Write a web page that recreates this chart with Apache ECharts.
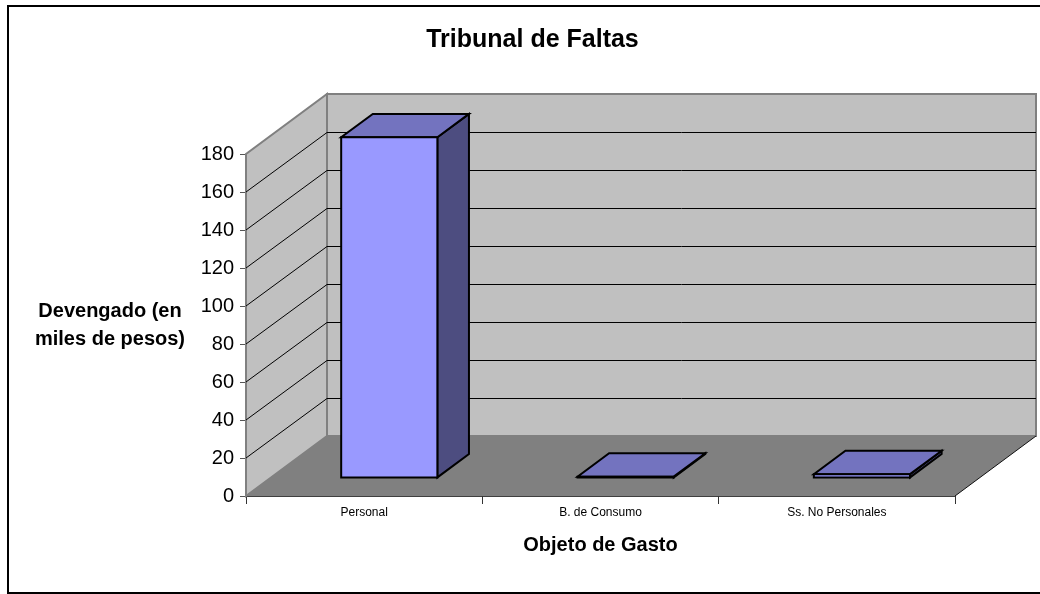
<!DOCTYPE html>
<html>
<head>
<meta charset="utf-8">
<style>html,body{margin:0;padding:0;background:#fff}#c{width:1040px;height:594px}</style>
<script src="https://cdn.jsdelivr.net/npm/echarts@6/dist/echarts.min.js"></script>
</head>
<body>
<div id="c"></div>
<script>
const categories = ['Personal', 'B. de Consumo', 'Ss. No Personales'];
const devengado = [179, 0.4, 1.7];
const gridValues = [20, 40, 60, 80, 100, 120, 140, 160];
const titleText = 'Tribunal de Faltas';
const yName = 'Devengado (en\nmiles de pesos)';
const xName = 'Objeto de Gasto';

const FONT = '"Liberation Sans", Arial, sans-serif';
const DEPTH = [81, -60];          // projection of the floor depth
const BAR_NEAR = 0.31, BAR_FAR = 0.70, BAR_WIDTH = 0.407;

function shifted(p, f) { return [p[0] + DEPTH[0] * f, p[1] + DEPTH[1] * f]; }
function poly(points, fill, stroke, lineWidth) {
  return { type: 'polygon', shape: { points }, style: { fill, stroke: stroke || null, lineWidth: lineWidth || 0, lineJoin: 'miter' } };
}
function seg(a, b, stroke, lineWidth) {
  return { type: 'line', shape: { x1: a[0], y1: a[1], x2: b[0], y2: b[1] }, style: { stroke, lineWidth: lineWidth || 1 } };
}

function renderWalls(params, api) {
  const band = api.size([1, 0])[0];
  const n = categories.length;
  const at = (edge, v) => {
    const p = api.coord([0, v]);
    return [p[0] - band / 2 + band * edge, p[1]];
  };
  const a0 = at(0, 0), b0 = at(n, 0), a1 = at(0, 180), b1 = at(n, 180);
  const kids = [
    poly([a0, a1, shifted(a1, 1), shifted(a0, 1)], '#c0c0c0', '#808080', 2),
    poly([shifted(a0, 1), shifted(a1, 1), shifted(b1, 1), shifted(b0, 1)], '#c0c0c0', '#808080', 2),
    poly([a0, b0, shifted(b0, 1), shifted(a0, 1)], '#808080')
  ];
  gridValues.forEach(v => {
    const l = at(0, v), r = at(n, v);
    const bl = shifted(l, 1), br = shifted(r, 1);
    const crisp = Math.round(bl[1]) + 0.5;
    kids.push(seg(l, [bl[0], crisp], '#000', 1));
    kids.push(seg([bl[0], crisp], [br[0], crisp], '#000', 1));
  });
  kids.push(seg(b0, shifted(b0, 1), '#111', 1));
  return { type: 'group', children: kids };
}

function renderBar(params, api) {
  const i = api.value(0), v = api.value(1);
  const base = api.coord([i, 0]), tip = api.coord([i, v]);
  const half = api.size([1, 0])[0] * BAR_WIDTH / 2;
  const fb = [base[0] - half, base[1]], fr = [base[0] + half, base[1]];
  const ft = [tip[0] - half, tip[1]], tr = [tip[0] + half, tip[1]];
  const n = p => shifted(p, BAR_NEAR), f = p => shifted(p, BAR_FAR);
  const st = '#000', w = 2;
  return {
    type: 'group',
    children: [
      poly([n(fr), n(tr), f(tr), f(fr)], '#4d4d80', st, w),
      poly([n(ft), n(tr), f(tr), f(ft)], '#7373bf', st, w),
      poly([n(fb), n(fr), n(tr), n(ft)], '#9999ff', st, w)
    ]
  };
}

const chart = echarts.init(document.getElementById('c'), null, { renderer: 'canvas' });
chart.setOption({
  animation: false,
  backgroundColor: '#fff',
  title: {
    text: titleText, left: 527.5, top: 23, textAlign: 'center',
    textStyle: { fontFamily: FONT, fontSize: 25, fontWeight: 'bold', color: '#000' }
  },
  grid: { left: 246, right: 85, top: 154, bottom: 98, containLabel: false },
  xAxis: {
    type: 'category', data: categories,
    name: xName, nameLocation: 'middle', nameGap: 49,
    nameTextStyle: { fontFamily: FONT, fontSize: 20, fontWeight: 'bold', color: '#000', verticalAlign: 'middle' },
    axisLine: { lineStyle: { color: '#000', width: 1.5 } },
    axisTick: { show: true, length: 8, alignWithLabel: false, lineStyle: { color: '#333', width: 1 } },
    axisLabel: { interval: 0, margin: 11, fontFamily: FONT, fontSize: 12, color: '#000' },
    splitLine: { show: false }
  },
  yAxis: {
    type: 'value', min: 0, max: 180, interval: 20,
    name: yName, nameLocation: 'middle', nameGap: 136, nameRotate: 0,
    nameTextStyle: { fontFamily: FONT, fontSize: 20, fontWeight: 'bold', color: '#000', align: 'center', verticalAlign: 'middle', lineHeight: 28 },
    axisLine: { show: true, lineStyle: { color: '#555', width: 1 } },
    axisTick: { show: true, length: 6, lineStyle: { color: '#555', width: 1 } },
    axisLabel: { margin: 12, fontFamily: FONT, fontSize: 20, color: '#000' },
    splitLine: { show: false }
  },
  graphic: [{
    type: 'rect', z: 100, silent: true,
    shape: { x: 8, y: 6, width: 1100, height: 587 },
    style: { fill: null, stroke: '#000', lineWidth: 2 }
  }],
  series: [
    { type: 'custom', name: 'walls', z: 1, silent: true, data: [[0, 0]], renderItem: renderWalls, encode: { x: 0, y: 1 } },
    { type: 'custom', name: 'Devengado', z: 2, silent: true,
      data: devengado.map((v, i) => [i, v]), renderItem: renderBar, encode: { x: 0, y: 1 } }
  ]
});
</script>
</body>
</html>
